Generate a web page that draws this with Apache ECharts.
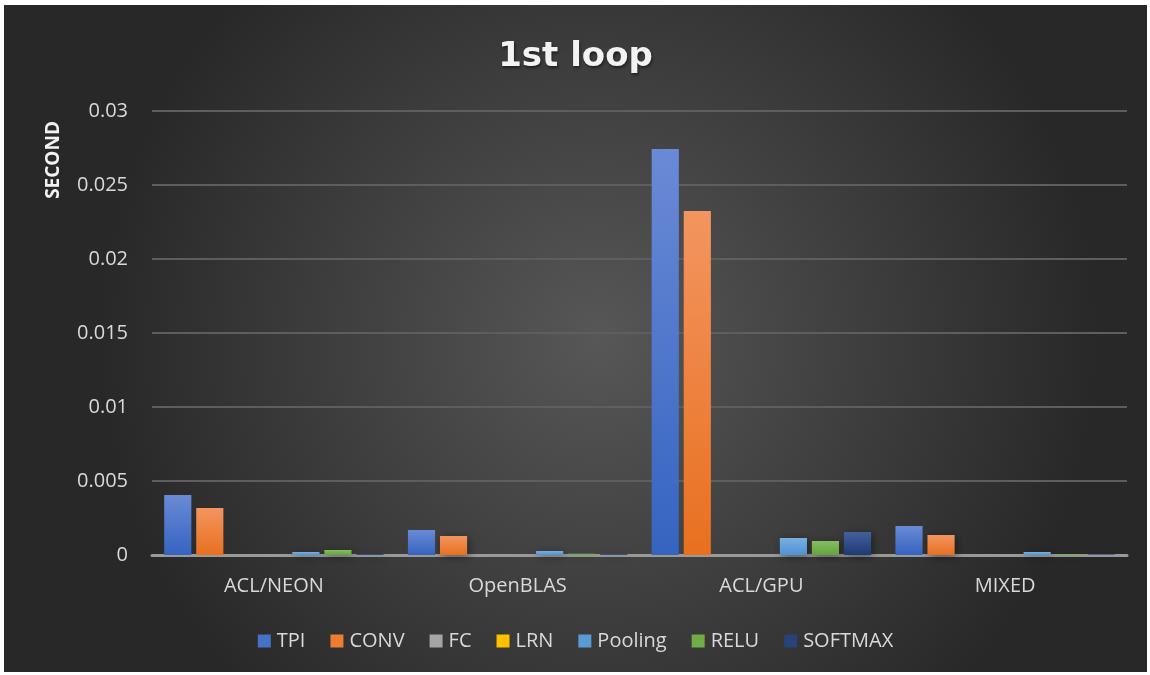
<!DOCTYPE html>
<html><head><meta charset="utf-8">
<script src="https://cdn.jsdelivr.net/npm/echarts@6/dist/echarts.min.js"></script>
<style>
html,body{margin:0;padding:0;background:#fff;}
#c{position:absolute;left:4px;top:5px;width:1143px;height:667px;}
</style></head><body>
<div id="c"></div>
<script>
const categories = ['ACL/NEON', 'OpenBLAS', 'ACL/GPU', 'MIXED'];
const seriesNames = ['TPI', 'CONV', 'FC', 'LRN', 'Pooling', 'RELU', 'SOFTMAX'];
const TPI = [0.00405, 0.00169, 0.02743, 0.00196];
const CONV = [0.00318, 0.00128, 0.02324, 0.00135];
const FC = [0, 0, 0, 0];
const LRN = [0, 0, 0, 0];
const Pooling = [0.0002, 0.00027, 0.00115, 0.0002];
const RELU = [0.00034, 0.00008, 0.00095, 0.00007];
const SOFTMAX = [0.00007, 0.00006, 0.00155, 0.00005];
const yTicks = [0, 0.005, 0.01, 0.015, 0.02, 0.025, 0.03];

const values = [TPI, CONV, FC, LRN, Pooling, RELU, SOFTMAX];
const colors = [
  ['#6a8ad6', '#3564c0'],
  ['#f39560', '#e8701f'],
  ['#b8b8b8', '#9a9a9a'],
  ['#ffd04a', '#f5b800'],
  ['#78afe0', '#4f93d2'],
  ['#86bd62', '#64a53c'],
  ['#44609a', '#1d3a74']
];
const legendColors = ['#4472C4', '#ED7D31', '#A5A5A5', '#FFC000', '#5B9BD5', '#70AD47', '#264478'];

const chart = echarts.init(document.getElementById('c'));
const font = '"Open Sans", "Noto Sans", sans-serif';
chart.setOption({
  backgroundColor: {
    type: 'radial', x: 0.52, y: 0.5, r: 0.75,
    colorStops: [{offset: 0, color: '#575757'}, {offset: 1, color: '#282828'}]
  },
  textStyle: {fontFamily: font},
  title: {
    text: '1st loop', left: 'center', top: 30,
    textStyle: {color: '#f2f2f2', fontSize: 34, fontWeight: 'bold', fontFamily: '"DejaVu Sans", sans-serif',
      textShadowColor: 'rgba(0,0,0,0.5)', textShadowBlur: 3, textShadowOffsetX: 1, textShadowOffsetY: 2}
  },
  graphic: [{
    type: 'text', left: 40, top: 116, rotation: Math.PI / 2,
    style: {text: 'SECOND', fill: '#f2f2f2', font: 'bold 19px "Open Sans", sans-serif'}
  }],
  grid: {left: 148, right: 20, top: 106, bottom: 117},
  legend: {
    bottom: 16, left: 'center', itemWidth: 13, itemHeight: 13, itemGap: 25,
    textStyle: {color: '#d9d9d9', fontSize: 20, fontFamily: font, padding: [0, 0, 0, 1]},
    data: seriesNames.map((n, i) => ({name: n, icon: 'rect', itemStyle: {color: legendColors[i]}}))
  },
  xAxis: {
    type: 'category', data: categories,
    axisLine: {lineStyle: {color: '#9a9a9a', width: 3}},
    axisTick: {show: false},
    axisLabel: {color: '#d9d9d9', fontSize: 20, margin: 21, fontFamily: font}
  },
  yAxis: {
    type: 'value', min: 0, max: 0.03, interval: 0.005,
    axisLine: {show: false}, axisTick: {show: false},
    axisLabel: {color: '#d9d9d9', fontSize: 20, margin: 24, fontFamily: font,
      formatter: v => { const i = yTicks.findIndex(t => Math.abs(t - v) < 1e-9); return i >= 0 ? String(yTicks[i]) : ''; }},
    splitLine: {lineStyle: {color: '#5e5e5e', width: 2}}
  },
  series: seriesNames.map((n, i) => ({
    name: n, type: 'bar', data: values[i],
    barGap: '18%', barCategoryGap: '10%',
    itemStyle: {
      color: {type: 'linear', x: 0, y: 0, x2: 0, y2: 1,
        colorStops: [{offset: 0, color: colors[i][0]}, {offset: 1, color: colors[i][1]}]},
      shadowColor: 'rgba(0,0,0,0.45)', shadowBlur: 8, shadowOffsetX: 2, shadowOffsetY: 2
    }
  }))
});
</script></body></html>
